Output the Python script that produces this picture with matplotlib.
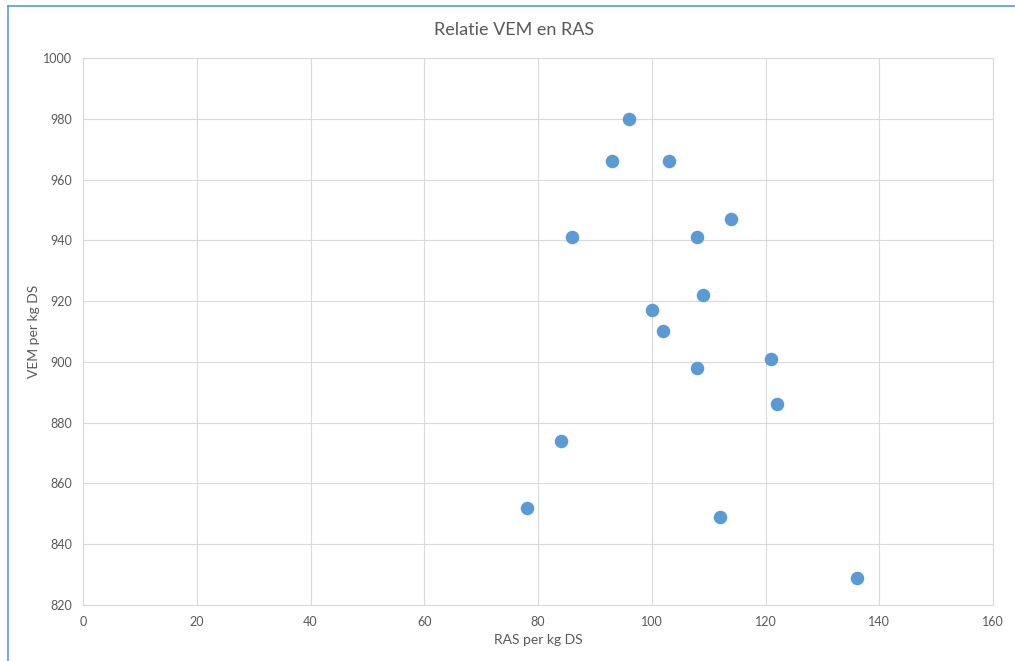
import matplotlib.pyplot as plt
from matplotlib.lines import Line2D

plt.rcParams['font.family'] = ['Lato', 'DejaVu Sans']

ras = [96, 93, 103, 114, 86, 108, 109, 100, 102, 121, 108, 122, 84, 78, 112, 136]
vem = [980, 966, 966, 947, 941, 941, 922, 917, 910, 901, 898, 886, 874, 852, 849, 829]

x_ticks = [0, 20, 40, 60, 80, 100, 120, 140, 160]
y_ticks = [820, 840, 860, 880, 900, 920, 940, 960, 980, 1000]

grey = '#595959'
grid = '#D9D9D9'

fig = plt.figure(figsize=(10.15, 6.61), dpi=100)
ax = fig.add_axes([83/1015, 56/661, 910/1015, 547/661])

ax.scatter(ras, vem, s=95, color='#5B9BD5', zorder=3, linewidths=0)

ax.set_xlim(0, 160)
ax.set_ylim(820, 1000)
ax.set_xticks(x_ticks)
ax.set_yticks(y_ticks)
ax.grid(True, color=grid, linewidth=0.8)
ax.set_axisbelow(True)
for sp in ax.spines.values():
    sp.set_color(grid)
    sp.set_linewidth(0.8)
ax.tick_params(length=0, colors=grey, labelsize=9, pad=8)

ax.set_xlabel('RAS per kg DS', color=grey, fontsize=10, labelpad=4)
ax.set_ylabel('VEM per kg DS', color=grey, fontsize=10, labelpad=2)
fig.text(514/1015, 1 - 30/661, 'Relatie VEM en RAS', color=grey, fontsize=13,
         ha='center', va='center')

# outer chart border (top and left visible)
fig.add_artist(Line2D([8/1015, 1], [1 - 6/661, 1 - 6/661], color='#5B9BD5', lw=1.2))
fig.add_artist(Line2D([8/1015, 8/1015], [0, 1 - 6/661], color='#5B9BD5', lw=1.2))

fig.savefig('out.png', dpi=100)
